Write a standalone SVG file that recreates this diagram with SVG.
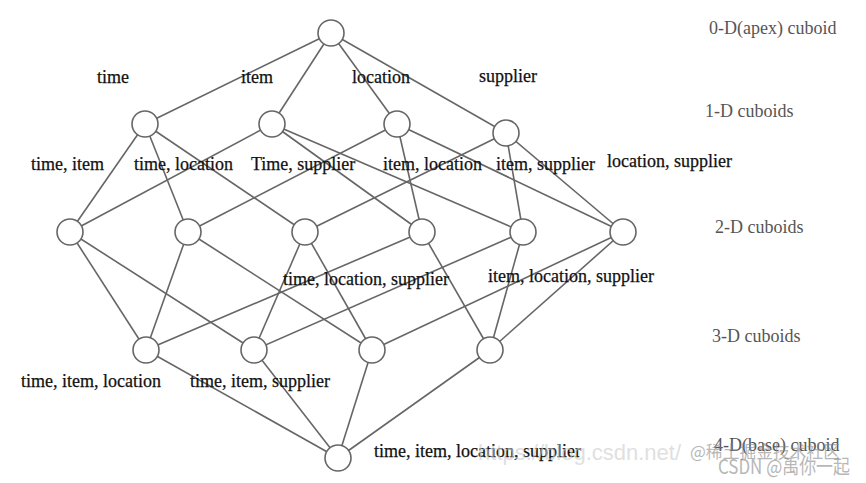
<svg xmlns="http://www.w3.org/2000/svg" width="866" height="483" viewBox="0 0 866 483">
<style>
.e{stroke:#666;stroke-width:1.6;fill:none}
.n{fill:#fff;stroke:#666;stroke-width:1.6}
.t{font-family:"Liberation Serif",serif;font-size:18px;fill:#111;stroke:#111;stroke-width:0.25}
.g{font-family:"Liberation Serif",serif;font-size:18px;fill:#555}
.w{font-family:"Liberation Sans",sans-serif;font-size:22px;fill:#ccc;opacity:0.6}
.wc{font-family:"Noto Sans CJK SC",sans-serif;fill:#888;opacity:0.6}
</style>
<rect width="866" height="483" fill="#fff"/>
<g id="connectors">
<line class="e" x1="331" y1="33" x2="145" y2="124"/>
<line class="e" x1="331" y1="33" x2="272" y2="124"/>
<line class="e" x1="331" y1="33" x2="397" y2="124"/>
<line class="e" x1="331" y1="33" x2="506" y2="133"/>
<line class="e" x1="145" y1="124" x2="70" y2="232"/>
<line class="e" x1="145" y1="124" x2="188" y2="232"/>
<line class="e" x1="145" y1="124" x2="305" y2="232"/>
<line class="e" x1="272" y1="124" x2="70" y2="232"/>
<line class="e" x1="272" y1="124" x2="422" y2="232"/>
<line class="e" x1="272" y1="124" x2="523" y2="232"/>
<line class="e" x1="397" y1="124" x2="188" y2="232"/>
<line class="e" x1="397" y1="124" x2="422" y2="232"/>
<line class="e" x1="397" y1="124" x2="623" y2="232"/>
<line class="e" x1="506" y1="133" x2="305" y2="232"/>
<line class="e" x1="506" y1="133" x2="523" y2="232"/>
<line class="e" x1="506" y1="133" x2="623" y2="232"/>
<line class="e" x1="70" y1="232" x2="146" y2="350"/>
<line class="e" x1="70" y1="232" x2="254" y2="350"/>
<line class="e" x1="188" y1="232" x2="146" y2="350"/>
<line class="e" x1="188" y1="232" x2="372" y2="350"/>
<line class="e" x1="305" y1="232" x2="254" y2="350"/>
<line class="e" x1="305" y1="232" x2="372" y2="350"/>
<line class="e" x1="422" y1="232" x2="146" y2="350"/>
<line class="e" x1="422" y1="232" x2="490" y2="350"/>
<line class="e" x1="523" y1="232" x2="254" y2="350"/>
<line class="e" x1="523" y1="232" x2="490" y2="350"/>
<line class="e" x1="623" y1="232" x2="372" y2="350"/>
<line class="e" x1="623" y1="232" x2="490" y2="350"/>
<line class="e" x1="146" y1="350" x2="338" y2="458"/>
<line class="e" x1="254" y1="350" x2="338" y2="458"/>
<line class="e" x1="372" y1="350" x2="338" y2="458"/>
<line class="e" x1="490" y1="350" x2="338" y2="458"/>
</g>
<g id="apex"><circle class="n" cx="331" cy="33" r="13"/></g>
<g id="time"><circle class="n" cx="145" cy="124" r="13"/></g>
<g id="item"><circle class="n" cx="272" cy="124" r="13"/></g>
<g id="location"><circle class="n" cx="397" cy="124" r="13"/></g>
<g id="supplier"><circle class="n" cx="506" cy="133" r="13"/></g>
<g id="time-item"><circle class="n" cx="70" cy="232" r="13"/></g>
<g id="time-location"><circle class="n" cx="188" cy="232" r="13"/></g>
<g id="time-supplier"><circle class="n" cx="305" cy="232" r="13"/></g>
<g id="item-location"><circle class="n" cx="422" cy="232" r="13"/></g>
<g id="item-supplier"><circle class="n" cx="523" cy="232" r="13"/></g>
<g id="location-supplier"><circle class="n" cx="623" cy="232" r="13"/></g>
<g id="time-item-location"><circle class="n" cx="146" cy="350" r="13"/></g>
<g id="time-item-supplier"><circle class="n" cx="254" cy="350" r="13"/></g>
<g id="time-location-supplier"><circle class="n" cx="372" cy="350" r="13"/></g>
<g id="item-location-supplier"><circle class="n" cx="490" cy="350" r="13"/></g>
<g id="base"><circle class="n" cx="338" cy="458" r="13"/></g>
<g id="labels">
<text class="t" x="97" y="83">time</text>
<text class="t" x="241" y="83">item</text>
<text class="t" x="352" y="83">location</text>
<text class="t" x="479" y="82">supplier</text>
<text class="t" x="31" y="170">time, item</text>
<text class="t" x="134" y="170">time, location</text>
<text class="t" x="251" y="170">Time, supplier</text>
<text class="t" x="383" y="170">item, location</text>
<text class="t" x="496" y="170">item, supplier</text>
<text class="t" x="607" y="167">location, supplier</text>
<text class="t" x="283" y="285">time, location, supplier</text>
<text class="t" x="488" y="282">item, location, supplier</text>
<text class="t" x="21" y="387">time, item, location</text>
<text class="t" x="190" y="387">time, item, supplier</text>
<text class="t" x="374" y="457">time, item, location, supplier</text>
</g>
<g id="levels">
<text class="g" x="709" y="34">0-D(apex) cuboid</text>
<text class="g" x="705" y="117">1-D cuboids</text>
<text class="g" x="715" y="233">2-D cuboids</text>
<text class="g" x="712" y="342">3-D cuboids</text>
<text class="g" x="714" y="451">4-D(base) cuboid</text>
</g>
<g id="watermark">
<text class="w" x="478" y="460">https://blog.csdn.net/</text>
<text class="wc" x="690" y="458" font-size="17" textLength="150" lengthAdjust="spacingAndGlyphs">@稀土掘金技术社区</text>
<text class="wc" x="718" y="474" font-size="20" textLength="132" lengthAdjust="spacingAndGlyphs">CSDN @禹你一起</text>
</g>
</svg>
